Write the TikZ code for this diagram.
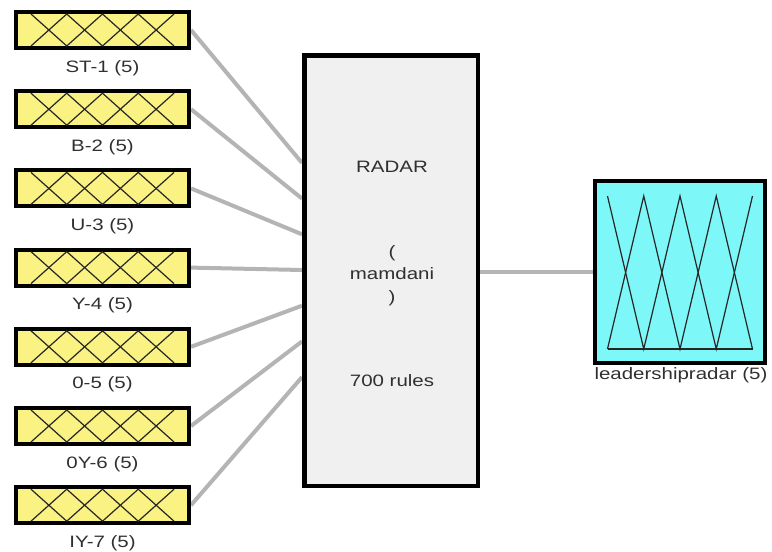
\documentclass[tikz,border=0pt]{standalone}
\usepackage{fontspec}
\setmainfont{Liberation Sans}[FakeStretch=1.24]
\usetikzlibrary{backgrounds,calc}
\definecolor{inyel}{HTML}{FAF282}
\definecolor{outcyan}{HTML}{7DF7F8}
\definecolor{radgray}{HTML}{F0F0F0}
\definecolor{conngray}{HTML}{B4B4B4}
\definecolor{txtgray}{HTML}{303030}
\tikzset{
  inbox/.style={draw=black, line width=4pt, fill=inyel, minimum width=173pt, minimum height=36pt, inner sep=0pt},
  outbox/.style={draw=black, line width=4pt, fill=outcyan, minimum width=170pt, minimum height=182pt, inner sep=0pt},
  radbox/.style={draw=black, line width=4.5pt, fill=radgray, minimum width=173.5pt, minimum height=430.5pt, inner sep=0pt},
  lbl/.style={font=\fontsize{16.5}{19}\selectfont, text=txtgray, anchor=base, inner sep=0pt},
  conn/.style={draw=conngray, line width=4pt},
  mf/.style={draw=black!85, line width=1.2pt, line join=miter}
}
\begin{document}
\begin{tikzpicture}[x=1pt,y=-1pt]
\useasboundingbox (0,0) rectangle (772,552);
% central system box
\node[radbox] (radar) at (391,270.5) {};
\node[lbl] (t1) at (392,172) {RADAR};
\node[lbl] (t2) at (392,257) {(};
\node[lbl] (t3) at (392,279) {mamdani};
\node[lbl] (t4) at (392,302) {)};
\node[lbl] (t5) at (392,386) {700 rules};
% output box
\node[outbox] (out) at (680,272) {};
\node[lbl] (outl) at (681,379) {leadershipradar (5)};
\draw[mf] ([shift={(-72.5,-76)}]out.center) -- ([shift={(-36.25,77)}]out.center) -- ([shift={(0,-76)}]out.center) -- ([shift={(36.25,77)}]out.center) -- ([shift={(72.5,-76)}]out.center);
\draw[mf] ([shift={(-72.5,77)}]out.center) -- ([shift={(-36.25,-76)}]out.center) -- ([shift={(0,77)}]out.center) -- ([shift={(36.25,-76)}]out.center) -- ([shift={(72.5,77)}]out.center);
\draw[mf] ([shift={(-72.5,77)}]out.center) -- ([shift={(72.5,77)}]out.center);
% input boxes
\foreach \lab [count=\i from 0] in {ST-1 (5), B-2 (5), U-3 (5), Y-4 (5), 0-5 (5), 0Y-6 (5), IY-7 (5)} {
  \pgfmathsetmacro{\yy}{30+79.2*\i}
  \pgfmathsetmacro{\ye}{270+35.7*(\i-3)}
  \node[inbox] (in\i) at (102.5,\yy) {};
  \node[lbl] (l\i) at (102.5,\yy+42) {\lab};
  \draw[mf] ([shift={(-71.5,-16)}]in\i.center) -- ([shift={(-35.75,16)}]in\i.center) -- ([shift={(0,-16)}]in\i.center) -- ([shift={(35.75,16)}]in\i.center) -- ([shift={(71.5,-16)}]in\i.center);
  \draw[mf] ([shift={(-71.5,16)}]in\i.center) -- ([shift={(-35.75,-16)}]in\i.center) -- ([shift={(0,16)}]in\i.center) -- ([shift={(35.75,-16)}]in\i.center) -- ([shift={(71.5,16)}]in\i.center);
  \coordinate (e\i) at (radar.west |- 0,\ye);
  \begin{scope}[on background layer]
    \draw[conn] (in\i.east) -- (e\i);
  \end{scope}
}
\begin{scope}[on background layer]
  \draw[conn] (radar.east |- out.west) -- (out.west);
\end{scope}
\end{tikzpicture}
\end{document}
